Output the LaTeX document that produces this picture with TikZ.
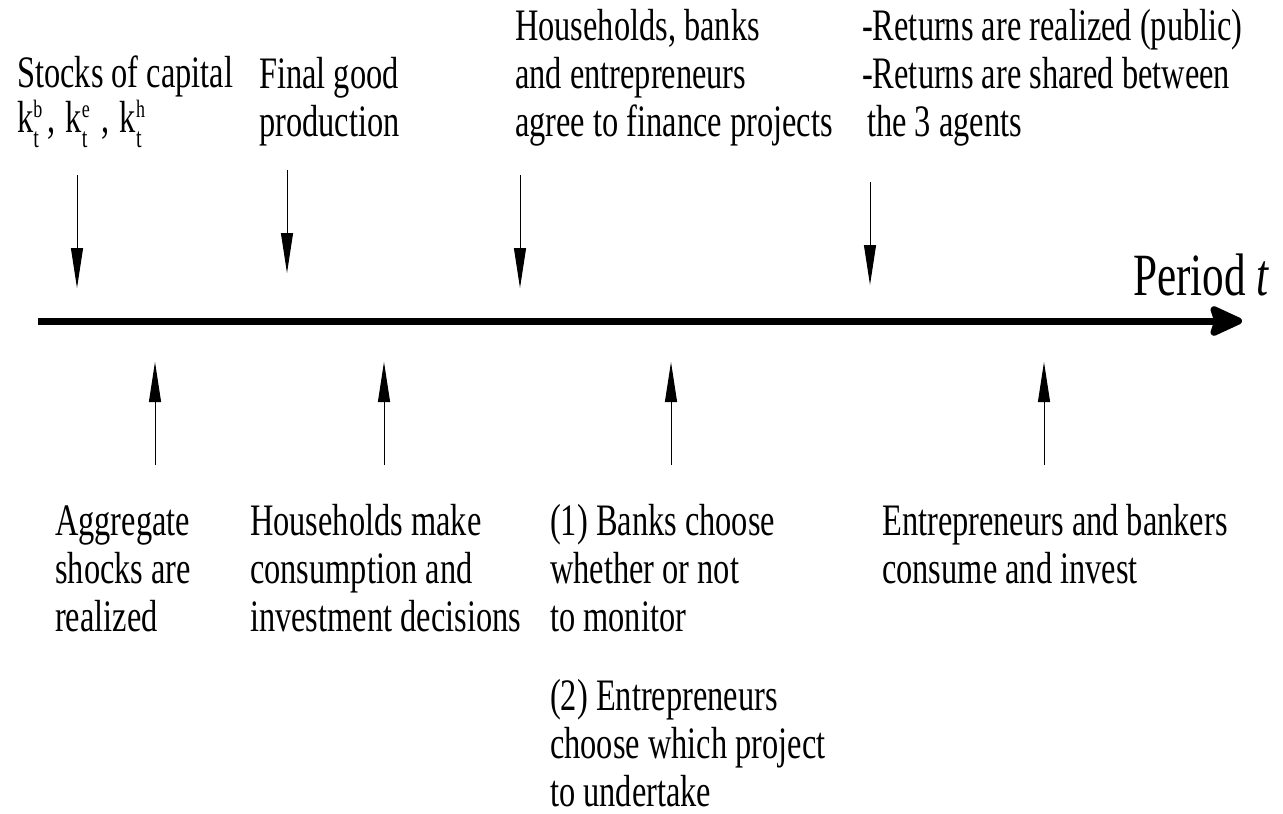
\documentclass[tikz,border=0pt]{standalone}
\usepackage{fontspec}
\setmainfont{Liberation Serif}[FakeStretch=0.72]
\usetikzlibrary{arrows.meta}
\newcommand\kvar[1]{k\rlap{\raisebox{15pt}{\fontsize{25}{25}\selectfont #1}}\makebox[11pt][l]{\raisebox{-15pt}{\fontsize{28}{28}\selectfont t}}}
\tikzset{
    lbl/.style={anchor=base west, inner sep=0pt, align=left, font=\fontsize{45}{48}\selectfont},
    evt/.style={line width=1pt, -{Triangle[length=40pt,width=12pt]}},
}
\begin{document}
\begin{tikzpicture}[x=1pt, y=-1pt]
        \useasboundingbox (0,0) rectangle (1283,814);
        % time line
        \coordinate (t0) at (38,321);
        \coordinate (t1) at (1242,321);
        \draw[line width=7pt, -{Stealth[length=38pt,width=34pt,inset=5pt,round]}] (t0) -- (t1);
        \node[lbl, font=\fontsize{60}{64}\selectfont] (period) at (1133,295) {Period \textit{t}};
        % events above the line (base = last line)
        \node[lbl] (stocks) at (17,132) {Stocks of capital\\[-3pt]\kvar{b}\hspace{3pt}, \hspace{2pt}\kvar{e}\hspace{9pt}, \hspace{2pt}\kvar{h}};
        \node[lbl] (final) at (259,136) {Final good\\production};
        \node[lbl] (agree) at (515,136) {Households, banks\\and entrepreneurs\\agree to finance projects};
        \node[lbl] (returns) at (862,136) {-Returns are realized (public)\\-Returns are shared between\\\hspace{5pt}the 3 agents};
        % events below the line
        \node[lbl] (shocks) at (55,631) {Aggregate\\shocks are\\realized};
        \node[lbl] (hhold) at (250,631) {Households make\\consumption and\\investment decisions};
        \node[lbl] (monitor) at (550,631) {(1) Banks choose\\whether or not\\to monitor};
        \node[lbl] (project) at (550,806) {(2) Entrepreneurs\\choose which project\\to undertake};
        \node[lbl] (consume) at (882,583) {Entrepreneurs and bankers\\consume and invest};
        % arrows
        \foreach \x/\a/\b/\n in {77/175/288/1, 287/170/273/2, 520/175/288/3, 870/182/285/4}{
            \coordinate (dn\n-s) at (\x,\a);
            \coordinate (dn\n-e) at (\x,\b);
            \draw[evt] (dn\n-s) -- (dn\n-e);
        }
        \foreach \x/\n in {155/1, 384/2, 671/3, 1044/4}{
            \coordinate (up\n-s) at (\x,465);
            \coordinate (up\n-e) at (\x,362);
            \draw[evt] (up\n-s) -- (up\n-e);
        }
    \end{tikzpicture}
\end{document}
